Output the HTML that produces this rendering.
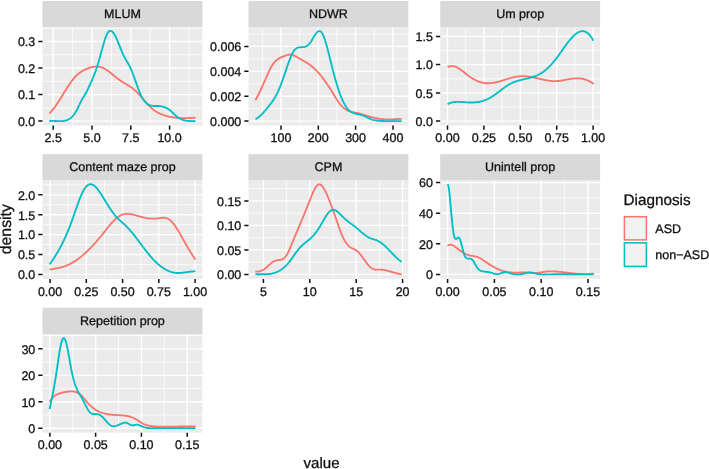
<!DOCTYPE html><html><head><meta charset="utf-8"><style>html,body{margin:0;padding:0;background:#fff}svg{display:block}text{font-family:"Liberation Sans",sans-serif;fill:#111;stroke:#111;stroke-width:0.3px;text-rendering:geometricPrecision}svg{opacity:0.999;will-change:transform}</style></head><body>
<svg width="709" height="469" viewBox="0 0 709 469">
<rect width="709" height="469" fill="#fff"/>
<g>
<rect x="42.50" y="1.00" width="159.90" height="26.20" fill="#D9D9D9"/>
<rect x="42.50" y="27.20" width="159.90" height="98.40" fill="#EBEBEB"/>
<path d="M72.60,27.20V125.60M111.40,27.20V125.60M150.20,27.20V125.60M189.00,27.20V125.60M42.50,107.85H202.40M42.50,81.35H202.40M42.50,54.75H202.40M42.50,28.25H202.40" stroke="#fff" stroke-opacity="0.95" stroke-width="0.8" fill="none"/>
<path d="M53.20,27.20V125.60M92.00,27.20V125.60M130.80,27.20V125.60M169.60,27.20V125.60M42.50,121.10H202.40M42.50,94.60H202.40M42.50,68.00H202.40M42.50,41.50H202.40" stroke="#fff" stroke-width="1.35" fill="none"/>
<path d="M49.40,113.39L50.00,112.82L50.60,112.21L51.20,111.57L51.80,110.89L52.41,110.19L53.01,109.45L53.61,108.69L54.21,107.90L54.81,107.08L55.41,106.24L56.01,105.39L56.61,104.51L57.22,103.61L57.82,102.70L58.42,101.78L59.02,100.84L59.62,99.89L60.22,98.93L60.82,97.96L61.42,96.99L62.03,96.02L62.63,95.04L63.23,94.06L63.83,93.08L64.43,92.11L65.03,91.14L65.63,90.17L66.23,89.21L66.84,88.27L67.44,87.33L68.04,86.41L68.64,85.50L69.24,84.61L69.84,83.73L70.44,82.87L71.04,82.03L71.65,81.22L72.25,80.42L72.85,79.65L73.45,78.90L74.05,78.17L74.65,77.47L75.25,76.80L75.85,76.15L76.46,75.54L77.06,74.95L77.66,74.40L78.26,73.87L78.86,73.37L79.46,72.90L80.06,72.45L80.66,72.02L81.27,71.62L81.87,71.24L82.47,70.87L83.07,70.53L83.67,70.20L84.27,69.89L84.87,69.59L85.47,69.31L86.08,69.04L86.68,68.77L87.28,68.53L87.88,68.29L88.48,68.06L89.08,67.85L89.68,67.66L90.28,67.47L90.89,67.31L91.49,67.16L92.09,67.02L92.69,66.90L93.29,66.80L93.89,66.71L94.49,66.65L95.09,66.60L95.70,66.57L96.30,66.56L96.90,66.57L97.50,66.60L98.10,66.65L98.70,66.73L99.30,66.82L99.90,66.94L100.50,67.08L101.11,67.25L101.71,67.44L102.31,67.65L102.91,67.89L103.51,68.16L104.11,68.45L104.71,68.77L105.31,69.12L105.92,69.48L106.52,69.88L107.12,70.29L107.72,70.72L108.32,71.16L108.92,71.62L109.52,72.09L110.12,72.57L110.73,73.06L111.33,73.55L111.93,74.05L112.53,74.55L113.13,75.05L113.73,75.55L114.33,76.04L114.93,76.53L115.54,77.01L116.14,77.48L116.74,77.95L117.34,78.41L117.94,78.85L118.54,79.30L119.14,79.73L119.74,80.15L120.35,80.57L120.95,80.97L121.55,81.37L122.15,81.76L122.75,82.13L123.35,82.50L123.95,82.86L124.55,83.22L125.16,83.57L125.76,83.93L126.36,84.28L126.96,84.63L127.56,84.99L128.16,85.35L128.76,85.73L129.36,86.11L129.97,86.50L130.57,86.91L131.17,87.33L131.77,87.76L132.37,88.22L132.97,88.69L133.57,89.18L134.17,89.68L134.78,90.20L135.38,90.74L135.98,91.30L136.58,91.88L137.18,92.48L137.78,93.09L138.38,93.73L138.98,94.37L139.59,95.03L140.19,95.70L140.79,96.38L141.39,97.07L141.99,97.76L142.59,98.45L143.19,99.14L143.79,99.83L144.40,100.53L145.00,101.22L145.60,101.90L146.20,102.58L146.80,103.25L147.40,103.91L148.00,104.56L148.60,105.20L149.20,105.83L149.81,106.44L150.41,107.03L151.01,107.61L151.61,108.16L152.21,108.70L152.81,109.21L153.41,109.70L154.01,110.16L154.62,110.60L155.22,111.02L155.82,111.42L156.42,111.79L157.02,112.15L157.62,112.49L158.22,112.81L158.82,113.11L159.43,113.40L160.03,113.68L160.63,113.94L161.23,114.19L161.83,114.43L162.43,114.65L163.03,114.87L163.63,115.08L164.24,115.28L164.84,115.47L165.44,115.66L166.04,115.84L166.64,116.00L167.24,116.17L167.84,116.32L168.44,116.47L169.05,116.60L169.65,116.74L170.25,116.86L170.85,116.98L171.45,117.09L172.05,117.20L172.65,117.29L173.25,117.39L173.86,117.47L174.46,117.55L175.06,117.63L175.66,117.70L176.26,117.76L176.86,117.82L177.46,117.87L178.06,117.92L178.67,117.96L179.27,118.00L179.87,118.03L180.47,118.06L181.07,118.08L181.67,118.10L182.27,118.12L182.87,118.13L183.48,118.13L184.08,118.14L184.68,118.14L185.28,118.14L185.88,118.13L186.48,118.12L187.08,118.11L187.68,118.09L188.29,118.07L188.89,118.05L189.49,118.03L190.09,118.00L190.69,117.98L191.29,117.95L191.89,117.91L192.49,117.88L193.10,117.84L193.70,117.81L194.30,117.77L194.90,117.73L195.50,117.69" stroke="#F8766D" stroke-width="1.85" fill="none" stroke-linejoin="round" stroke-linecap="butt"/>
<path d="M49.40,121.11L50.00,121.04L50.60,120.99L51.20,120.95L51.80,120.93L52.41,120.92L53.01,120.92L53.61,120.93L54.21,120.95L54.81,120.98L55.41,121.01L56.01,121.04L56.61,121.07L57.22,121.10L57.82,121.13L58.42,121.16L59.02,121.18L59.62,121.19L60.22,121.19L60.82,121.18L61.42,121.16L62.03,121.12L62.63,121.07L63.23,121.00L63.83,120.91L64.43,120.80L65.03,120.66L65.63,120.51L66.23,120.32L66.84,120.11L67.44,119.87L68.04,119.59L68.64,119.29L69.24,118.94L69.84,118.56L70.44,118.14L71.04,117.67L71.65,117.15L72.25,116.58L72.85,115.95L73.45,115.26L74.05,114.51L74.65,113.69L75.25,112.81L75.85,111.85L76.46,110.81L77.06,109.70L77.66,108.50L78.26,107.23L78.86,105.93L79.46,104.61L80.06,103.31L80.66,102.06L81.27,100.87L81.87,99.78L82.47,98.75L83.07,97.77L83.67,96.81L84.27,95.84L84.87,94.84L85.47,93.79L86.08,92.68L86.68,91.51L87.28,90.30L87.88,89.06L88.48,87.79L89.08,86.52L89.68,85.24L90.28,83.95L90.89,82.66L91.49,81.34L92.09,80.00L92.69,78.62L93.29,77.20L93.89,75.73L94.49,74.20L95.09,72.61L95.70,70.95L96.30,69.21L96.90,67.39L97.50,65.47L98.10,63.47L98.70,61.40L99.30,59.28L99.90,57.12L100.50,54.94L101.11,52.74L101.71,50.55L102.31,48.39L102.91,46.25L103.51,44.17L104.11,42.15L104.71,40.21L105.31,38.37L105.92,36.68L106.52,35.17L107.12,33.87L107.72,32.82L108.32,32.00L108.92,31.40L109.52,31.02L110.12,30.83L110.73,30.84L111.33,31.03L111.93,31.39L112.53,31.90L113.13,32.56L113.73,33.36L114.33,34.28L114.93,35.32L115.54,36.46L116.14,37.69L116.74,39.01L117.34,40.39L117.94,41.84L118.54,43.33L119.14,44.85L119.74,46.39L120.35,47.93L120.95,49.44L121.55,50.93L122.15,52.35L122.75,53.71L123.35,54.97L123.95,56.17L124.55,57.30L125.16,58.38L125.76,59.42L126.36,60.44L126.96,61.46L127.56,62.48L128.16,63.52L128.76,64.60L129.36,65.72L129.97,66.91L130.57,68.17L131.17,69.52L131.77,70.96L132.37,72.47L132.97,74.04L133.57,75.66L134.17,77.32L134.78,79.00L135.38,80.71L135.98,82.42L136.58,84.12L137.18,85.80L137.78,87.46L138.38,89.07L138.98,90.64L139.59,92.14L140.19,93.56L140.79,94.90L141.39,96.15L141.99,97.29L142.59,98.35L143.19,99.32L143.79,100.20L144.40,101.00L145.00,101.72L145.60,102.38L146.20,102.96L146.80,103.47L147.40,103.93L148.00,104.33L148.60,104.67L149.20,104.97L149.81,105.21L150.41,105.42L151.01,105.59L151.61,105.72L152.21,105.82L152.81,105.90L153.41,105.95L154.01,105.99L154.62,106.01L155.22,106.01L155.82,106.01L156.42,106.01L157.02,106.01L157.62,106.01L158.22,106.02L158.82,106.04L159.43,106.07L160.03,106.13L160.63,106.20L161.23,106.29L161.83,106.40L162.43,106.53L163.03,106.68L163.63,106.86L164.24,107.06L164.84,107.28L165.44,107.52L166.04,107.80L166.64,108.09L167.24,108.42L167.84,108.77L168.44,109.15L169.05,109.56L169.65,110.00L170.25,110.48L170.85,110.98L171.45,111.51L172.05,112.07L172.65,112.65L173.25,113.24L173.86,113.83L174.46,114.42L175.06,114.99L175.66,115.55L176.26,116.08L176.86,116.58L177.46,117.05L178.06,117.48L178.67,117.88L179.27,118.25L179.87,118.59L180.47,118.90L181.07,119.18L181.67,119.44L182.27,119.68L182.87,119.88L183.48,120.07L184.08,120.24L184.68,120.39L185.28,120.51L185.88,120.63L186.48,120.72L187.08,120.80L187.68,120.87L188.29,120.93L188.89,120.97L189.49,121.01L190.09,121.03L190.69,121.05L191.29,121.06L191.89,121.07L192.49,121.08L193.10,121.08L193.70,121.09L194.30,121.09L194.90,121.09L195.50,121.10" stroke="#00BFC4" stroke-width="1.85" fill="none" stroke-linejoin="round" stroke-linecap="butt"/>
<path d="M53.20,125.60v4.2M92.00,125.60v4.2M130.80,125.60v4.2M169.60,125.60v4.2M42.50,121.10h-4.2M42.50,94.60h-4.2M42.50,68.00h-4.2M42.50,41.50h-4.2" stroke="#111" stroke-width="1.5" fill="none"/>
<text x="53.20" y="142.20" font-size="12.5" text-anchor="middle">2.5</text>
<text x="92.00" y="142.20" font-size="12.5" text-anchor="middle">5.0</text>
<text x="130.80" y="142.20" font-size="12.5" text-anchor="middle">7.5</text>
<text x="169.60" y="142.20" font-size="12.5" text-anchor="middle">10.0</text>
<text x="35.30" y="125.90" font-size="12.5" text-anchor="end">0.0</text>
<text x="35.30" y="99.40" font-size="12.5" text-anchor="end">0.1</text>
<text x="35.30" y="72.80" font-size="12.5" text-anchor="end">0.2</text>
<text x="35.30" y="46.30" font-size="12.5" text-anchor="end">0.3</text>
<text x="122.45" y="17.80" font-size="12.5" text-anchor="middle" fill="#1a1a1a">MLUM</text>
</g>
<g>
<rect x="248.50" y="1.00" width="159.90" height="26.20" fill="#D9D9D9"/>
<rect x="248.50" y="27.20" width="159.90" height="98.40" fill="#EBEBEB"/>
<path d="M299.65,27.20V125.60M336.95,27.20V125.60M374.25,27.20V125.60M262.35,27.20V125.60M248.50,108.65H408.40M248.50,83.75H408.40M248.50,58.85H408.40M248.50,33.95H408.40" stroke="#fff" stroke-opacity="0.95" stroke-width="0.8" fill="none"/>
<path d="M281.00,27.20V125.60M318.30,27.20V125.60M355.60,27.20V125.60M393.00,27.20V125.60M248.50,121.10H408.40M248.50,96.20H408.40M248.50,71.30H408.40M248.50,46.40H408.40" stroke="#fff" stroke-width="1.35" fill="none"/>
<path d="M255.40,100.40L256.00,99.26L256.60,98.11L257.20,96.93L257.81,95.74L258.41,94.54L259.01,93.31L259.61,92.08L260.21,90.82L260.81,89.55L261.42,88.27L262.02,86.97L262.62,85.66L263.22,84.34L263.82,83.00L264.42,81.65L265.03,80.29L265.63,78.92L266.23,77.54L266.83,76.16L267.43,74.79L268.03,73.44L268.64,72.13L269.24,70.84L269.84,69.61L270.44,68.43L271.04,67.31L271.64,66.26L272.25,65.29L272.85,64.38L273.45,63.53L274.05,62.75L274.65,62.04L275.25,61.38L275.86,60.78L276.46,60.24L277.06,59.74L277.66,59.30L278.26,58.89L278.86,58.52L279.47,58.18L280.07,57.87L280.67,57.58L281.27,57.31L281.87,57.05L282.47,56.80L283.08,56.56L283.68,56.31L284.28,56.07L284.88,55.83L285.48,55.60L286.08,55.38L286.69,55.19L287.29,55.02L287.89,54.87L288.49,54.77L289.09,54.69L289.69,54.67L290.30,54.68L290.90,54.74L291.50,54.84L292.10,54.98L292.70,55.15L293.30,55.35L293.91,55.59L294.51,55.84L295.11,56.12L295.71,56.42L296.31,56.73L296.91,57.06L297.52,57.40L298.12,57.74L298.72,58.09L299.32,58.44L299.92,58.79L300.52,59.13L301.13,59.47L301.73,59.81L302.33,60.15L302.93,60.50L303.53,60.84L304.13,61.18L304.73,61.53L305.34,61.89L305.94,62.25L306.54,62.62L307.14,63.00L307.74,63.39L308.34,63.79L308.95,64.20L309.55,64.62L310.15,65.06L310.75,65.52L311.35,65.99L311.95,66.48L312.56,66.98L313.16,67.50L313.76,68.04L314.36,68.59L314.96,69.16L315.56,69.75L316.17,70.35L316.77,70.97L317.37,71.61L317.97,72.26L318.57,72.93L319.17,73.61L319.78,74.32L320.38,75.04L320.98,75.78L321.58,76.53L322.18,77.30L322.78,78.09L323.39,78.89L323.99,79.71L324.59,80.54L325.19,81.38L325.79,82.24L326.39,83.10L327.00,83.97L327.60,84.85L328.20,85.74L328.80,86.63L329.40,87.54L330.00,88.45L330.61,89.37L331.21,90.31L331.81,91.26L332.41,92.23L333.01,93.22L333.61,94.23L334.22,95.25L334.82,96.30L335.42,97.34L336.02,98.36L336.62,99.35L337.22,100.29L337.83,101.19L338.43,102.04L339.03,102.86L339.63,103.63L340.23,104.36L340.83,105.05L341.44,105.70L342.04,106.32L342.64,106.89L343.24,107.44L343.84,107.95L344.44,108.42L345.05,108.86L345.65,109.27L346.25,109.65L346.85,110.00L347.45,110.32L348.05,110.61L348.66,110.88L349.26,111.12L349.86,111.34L350.46,111.54L351.06,111.72L351.66,111.89L352.27,112.04L352.87,112.18L353.47,112.31L354.07,112.43L354.67,112.55L355.27,112.66L355.87,112.77L356.48,112.89L357.08,113.00L357.68,113.12L358.28,113.25L358.88,113.38L359.48,113.53L360.09,113.69L360.69,113.86L361.29,114.04L361.89,114.23L362.49,114.42L363.09,114.62L363.70,114.82L364.30,115.02L364.90,115.21L365.50,115.41L366.10,115.60L366.70,115.79L367.31,115.98L367.91,116.16L368.51,116.34L369.11,116.51L369.71,116.68L370.31,116.85L370.92,117.01L371.52,117.17L372.12,117.32L372.72,117.47L373.32,117.61L373.92,117.75L374.53,117.89L375.13,118.02L375.73,118.14L376.33,118.26L376.93,118.37L377.53,118.48L378.14,118.59L378.74,118.68L379.34,118.78L379.94,118.86L380.54,118.94L381.14,119.02L381.75,119.09L382.35,119.15L382.95,119.21L383.55,119.26L384.15,119.30L384.75,119.34L385.36,119.37L385.96,119.39L386.56,119.41L387.16,119.42L387.76,119.43L388.36,119.43L388.97,119.42L389.57,119.42L390.17,119.40L390.77,119.39L391.37,119.37L391.97,119.35L392.58,119.32L393.18,119.29L393.78,119.26L394.38,119.23L394.98,119.19L395.58,119.16L396.19,119.12L396.79,119.08L397.39,119.05L397.99,119.01L398.59,118.97L399.19,118.94L399.80,118.90L400.40,118.87L401.00,118.83L401.60,118.80" stroke="#F8766D" stroke-width="1.85" fill="none" stroke-linejoin="round" stroke-linecap="butt"/>
<path d="M255.40,119.10L256.00,118.82L256.60,118.50L257.20,118.13L257.81,117.73L258.41,117.29L259.01,116.82L259.61,116.32L260.21,115.79L260.81,115.23L261.42,114.64L262.02,114.04L262.62,113.40L263.22,112.75L263.82,112.09L264.42,111.40L265.03,110.71L265.63,110.00L266.23,109.29L266.83,108.56L267.43,107.83L268.03,107.10L268.64,106.36L269.24,105.62L269.84,104.86L270.44,104.09L271.04,103.30L271.64,102.48L272.25,101.64L272.85,100.77L273.45,99.87L274.05,98.93L274.65,97.96L275.25,96.94L275.86,95.87L276.46,94.75L277.06,93.58L277.66,92.35L278.26,91.06L278.86,89.71L279.47,88.29L280.07,86.81L280.67,85.27L281.27,83.68L281.87,82.05L282.47,80.38L283.08,78.67L283.68,76.94L284.28,75.19L284.88,73.42L285.48,71.64L286.08,69.86L286.69,68.08L287.29,66.31L287.89,64.57L288.49,62.86L289.09,61.19L289.69,59.58L290.30,58.04L290.90,56.57L291.50,55.20L292.10,53.92L292.70,52.76L293.30,51.71L293.91,50.80L294.51,50.02L295.11,49.37L295.71,48.82L296.31,48.38L296.91,48.03L297.52,47.76L298.12,47.55L298.72,47.41L299.32,47.31L299.92,47.26L300.52,47.22L301.13,47.21L301.73,47.20L302.33,47.18L302.93,47.15L303.53,47.10L304.13,47.00L304.73,46.87L305.34,46.68L305.94,46.44L306.54,46.14L307.14,45.77L307.74,45.33L308.34,44.82L308.95,44.23L309.55,43.56L310.15,42.79L310.75,41.93L311.35,40.98L311.95,39.97L312.56,38.92L313.16,37.87L313.76,36.83L314.36,35.83L314.96,34.89L315.56,34.02L316.17,33.24L316.77,32.56L317.37,31.99L317.97,31.55L318.57,31.25L319.17,31.11L319.78,31.14L320.38,31.36L320.98,31.77L321.58,32.39L322.18,33.24L322.78,34.31L323.39,35.59L323.99,37.06L324.59,38.72L325.19,40.55L325.79,42.53L326.39,44.65L327.00,46.86L327.60,49.16L328.20,51.51L328.80,53.89L329.40,56.28L330.00,58.69L330.61,61.10L331.21,63.50L331.81,65.89L332.41,68.27L333.01,70.62L333.61,72.93L334.22,75.21L334.82,77.45L335.42,79.63L336.02,81.75L336.62,83.80L337.22,85.79L337.83,87.71L338.43,89.55L339.03,91.33L339.63,93.03L340.23,94.67L340.83,96.23L341.44,97.72L342.04,99.14L342.64,100.48L343.24,101.75L343.84,102.95L344.44,104.08L345.05,105.13L345.65,106.11L346.25,107.02L346.85,107.85L347.45,108.60L348.05,109.29L348.66,109.92L349.26,110.48L349.86,110.99L350.46,111.44L351.06,111.84L351.66,112.20L352.27,112.52L352.87,112.80L353.47,113.04L354.07,113.26L354.67,113.45L355.27,113.62L355.87,113.76L356.48,113.90L357.08,114.02L357.68,114.14L358.28,114.25L358.88,114.36L359.48,114.48L360.09,114.61L360.69,114.75L361.29,114.91L361.89,115.08L362.49,115.28L363.09,115.51L363.70,115.75L364.30,116.02L364.90,116.30L365.50,116.59L366.10,116.89L366.70,117.20L367.31,117.51L367.91,117.81L368.51,118.11L369.11,118.40L369.71,118.68L370.31,118.95L370.92,119.19L371.52,119.41L372.12,119.61L372.72,119.79L373.32,119.95L373.92,120.09L374.53,120.21L375.13,120.32L375.73,120.42L376.33,120.51L376.93,120.59L377.53,120.66L378.14,120.73L378.74,120.79L379.34,120.84L379.94,120.88L380.54,120.92L381.14,120.95L381.75,120.98L382.35,121.01L382.95,121.03L383.55,121.05L384.15,121.06L384.75,121.07L385.36,121.08L385.96,121.09L386.56,121.10L387.16,121.10L387.76,121.11L388.36,121.11L388.97,121.11L389.57,121.11L390.17,121.11L390.77,121.11L391.37,121.11L391.97,121.11L392.58,121.11L393.18,121.10L393.78,121.10L394.38,121.10L394.98,121.10L395.58,121.09L396.19,121.09L396.79,121.09L397.39,121.09L397.99,121.09L398.59,121.09L399.19,121.09L399.80,121.09L400.40,121.09L401.00,121.10L401.60,121.10" stroke="#00BFC4" stroke-width="1.85" fill="none" stroke-linejoin="round" stroke-linecap="butt"/>
<path d="M281.00,125.60v4.2M318.30,125.60v4.2M355.60,125.60v4.2M393.00,125.60v4.2M248.50,121.10h-4.2M248.50,96.20h-4.2M248.50,71.30h-4.2M248.50,46.40h-4.2" stroke="#111" stroke-width="1.5" fill="none"/>
<text x="281.00" y="142.20" font-size="12.5" text-anchor="middle">100</text>
<text x="318.30" y="142.20" font-size="12.5" text-anchor="middle">200</text>
<text x="355.60" y="142.20" font-size="12.5" text-anchor="middle">300</text>
<text x="393.00" y="142.20" font-size="12.5" text-anchor="middle">400</text>
<text x="241.30" y="125.90" font-size="12.5" text-anchor="end">0.000</text>
<text x="241.30" y="101.00" font-size="12.5" text-anchor="end">0.002</text>
<text x="241.30" y="76.10" font-size="12.5" text-anchor="end">0.004</text>
<text x="241.30" y="51.20" font-size="12.5" text-anchor="end">0.006</text>
<text x="328.45" y="17.80" font-size="12.5" text-anchor="middle" fill="#1a1a1a">NDWR</text>
</g>
<g>
<rect x="440.20" y="1.00" width="159.90" height="26.20" fill="#D9D9D9"/>
<rect x="440.20" y="27.20" width="159.90" height="98.40" fill="#EBEBEB"/>
<path d="M465.70,27.20V125.60M502.10,27.20V125.60M538.50,27.20V125.60M574.90,27.20V125.60M440.20,107.00H600.10M440.20,78.80H600.10M440.20,50.50H600.10" stroke="#fff" stroke-opacity="0.95" stroke-width="0.8" fill="none"/>
<path d="M447.50,27.20V125.60M483.90,27.20V125.60M520.30,27.20V125.60M556.70,27.20V125.60M593.10,27.20V125.60M440.20,121.10H600.10M440.20,92.90H600.10M440.20,64.60H600.10M440.20,36.40H600.10" stroke="#fff" stroke-width="1.35" fill="none"/>
<path d="M447.50,67.28L448.10,66.95L448.70,66.66L449.30,66.44L449.90,66.26L450.51,66.14L451.11,66.06L451.71,66.03L452.31,66.05L452.91,66.11L453.51,66.21L454.11,66.34L454.71,66.51L455.32,66.72L455.92,66.96L456.52,67.23L457.12,67.53L457.72,67.85L458.32,68.20L458.92,68.57L459.52,68.96L460.13,69.37L460.73,69.79L461.33,70.23L461.93,70.68L462.53,71.14L463.13,71.60L463.73,72.07L464.33,72.55L464.94,73.03L465.54,73.51L466.14,73.98L466.74,74.45L467.34,74.91L467.94,75.37L468.54,75.82L469.14,76.25L469.75,76.67L470.35,77.08L470.95,77.48L471.55,77.87L472.15,78.25L472.75,78.61L473.35,78.96L473.95,79.30L474.56,79.63L475.16,79.94L475.76,80.24L476.36,80.53L476.96,80.80L477.56,81.06L478.16,81.31L478.76,81.54L479.37,81.76L479.97,81.97L480.57,82.16L481.17,82.34L481.77,82.50L482.37,82.64L482.97,82.78L483.57,82.89L484.18,83.00L484.78,83.08L485.38,83.15L485.98,83.21L486.58,83.25L487.18,83.27L487.78,83.28L488.38,83.28L488.99,83.27L489.59,83.24L490.19,83.20L490.79,83.15L491.39,83.09L491.99,83.01L492.59,82.93L493.19,82.84L493.80,82.73L494.40,82.62L495.00,82.50L495.60,82.38L496.20,82.24L496.80,82.10L497.40,81.95L498.00,81.80L498.60,81.64L499.21,81.47L499.81,81.30L500.41,81.13L501.01,80.95L501.61,80.77L502.21,80.59L502.81,80.41L503.41,80.22L504.02,80.03L504.62,79.84L505.22,79.65L505.82,79.46L506.42,79.28L507.02,79.09L507.62,78.90L508.22,78.72L508.83,78.54L509.43,78.36L510.03,78.19L510.63,78.02L511.23,77.85L511.83,77.69L512.43,77.53L513.03,77.39L513.64,77.24L514.24,77.10L514.84,76.98L515.44,76.85L516.04,76.74L516.64,76.64L517.24,76.54L517.84,76.45L518.45,76.38L519.05,76.31L519.65,76.26L520.25,76.21L520.85,76.18L521.45,76.16L522.05,76.15L522.65,76.15L523.26,76.16L523.86,76.18L524.46,76.21L525.06,76.25L525.66,76.29L526.26,76.35L526.86,76.41L527.46,76.48L528.07,76.56L528.67,76.64L529.27,76.73L529.87,76.82L530.47,76.92L531.07,77.03L531.67,77.13L532.27,77.25L532.88,77.37L533.48,77.49L534.08,77.61L534.68,77.74L535.28,77.87L535.88,78.00L536.48,78.14L537.08,78.27L537.69,78.41L538.29,78.54L538.89,78.68L539.49,78.82L540.09,78.95L540.69,79.09L541.29,79.22L541.89,79.36L542.50,79.49L543.10,79.62L543.70,79.74L544.30,79.86L544.90,79.98L545.50,80.10L546.10,80.21L546.70,80.32L547.30,80.42L547.91,80.52L548.51,80.61L549.11,80.69L549.71,80.77L550.31,80.84L550.91,80.91L551.51,80.96L552.11,81.01L552.72,81.05L553.32,81.08L553.92,81.11L554.52,81.12L555.12,81.13L555.72,81.12L556.32,81.10L556.92,81.08L557.53,81.04L558.13,80.99L558.73,80.93L559.33,80.87L559.93,80.79L560.53,80.71L561.13,80.63L561.73,80.53L562.34,80.44L562.94,80.33L563.54,80.23L564.14,80.12L564.74,80.01L565.34,79.89L565.94,79.78L566.54,79.67L567.15,79.55L567.75,79.44L568.35,79.33L568.95,79.22L569.55,79.11L570.15,79.01L570.75,78.91L571.35,78.82L571.96,78.73L572.56,78.65L573.16,78.57L573.76,78.51L574.36,78.45L574.96,78.40L575.56,78.36L576.16,78.33L576.77,78.32L577.37,78.31L577.97,78.32L578.57,78.34L579.17,78.38L579.77,78.42L580.37,78.48L580.97,78.56L581.58,78.65L582.18,78.76L582.78,78.88L583.38,79.01L583.98,79.17L584.58,79.33L585.18,79.52L585.78,79.72L586.39,79.93L586.99,80.16L587.59,80.42L588.19,80.68L588.79,80.97L589.39,81.27L589.99,81.59L590.59,81.93L591.20,82.29L591.80,82.67L592.40,83.06L593.00,83.48L593.60,83.92" stroke="#F8766D" stroke-width="1.85" fill="none" stroke-linejoin="round" stroke-linecap="butt"/>
<path d="M447.50,104.10L448.10,103.82L448.70,103.56L449.31,103.32L449.91,103.10L450.51,102.90L451.11,102.73L451.72,102.57L452.32,102.43L452.92,102.31L453.52,102.21L454.13,102.12L454.73,102.04L455.33,101.98L455.93,101.93L456.54,101.90L457.14,101.88L457.74,101.86L458.34,101.86L458.95,101.87L459.55,101.88L460.15,101.90L460.75,101.93L461.36,101.96L461.96,102.00L462.56,102.04L463.16,102.08L463.77,102.13L464.37,102.17L464.97,102.22L465.57,102.27L466.18,102.31L466.78,102.35L467.38,102.39L467.98,102.43L468.59,102.46L469.19,102.48L469.79,102.50L470.39,102.51L471.00,102.52L471.60,102.51L472.20,102.51L472.80,102.49L473.41,102.47L474.01,102.43L474.61,102.39L475.21,102.35L475.82,102.29L476.42,102.22L477.02,102.15L477.62,102.07L478.23,101.97L478.83,101.87L479.43,101.76L480.03,101.63L480.64,101.50L481.24,101.35L481.84,101.20L482.44,101.03L483.05,100.85L483.65,100.66L484.25,100.46L484.85,100.24L485.46,100.01L486.06,99.77L486.66,99.52L487.26,99.25L487.87,98.97L488.47,98.67L489.07,98.36L489.67,98.04L490.28,97.70L490.88,97.35L491.48,96.98L492.08,96.60L492.69,96.21L493.29,95.81L493.89,95.40L494.49,94.98L495.10,94.55L495.70,94.11L496.30,93.67L496.90,93.22L497.51,92.77L498.11,92.32L498.71,91.86L499.31,91.40L499.92,90.94L500.52,90.48L501.12,90.02L501.72,89.56L502.33,89.11L502.93,88.66L503.53,88.21L504.13,87.77L504.74,87.34L505.34,86.91L505.94,86.49L506.54,86.09L507.15,85.69L507.75,85.30L508.35,84.93L508.95,84.56L509.56,84.22L510.16,83.88L510.76,83.57L511.36,83.27L511.97,82.98L512.57,82.71L513.17,82.45L513.77,82.20L514.38,81.97L514.98,81.74L515.58,81.53L516.18,81.33L516.79,81.13L517.39,80.95L517.99,80.77L518.59,80.59L519.20,80.43L519.80,80.26L520.40,80.11L521.00,79.95L521.60,79.80L522.21,79.65L522.81,79.51L523.41,79.36L524.01,79.22L524.62,79.08L525.22,78.94L525.82,78.80L526.42,78.66L527.03,78.52L527.63,78.37L528.23,78.23L528.83,78.08L529.44,77.92L530.04,77.77L530.64,77.60L531.24,77.43L531.85,77.26L532.45,77.08L533.05,76.89L533.65,76.69L534.26,76.48L534.86,76.26L535.46,76.03L536.06,75.79L536.67,75.54L537.27,75.28L537.87,75.00L538.47,74.71L539.08,74.40L539.68,74.08L540.28,73.75L540.88,73.39L541.49,73.02L542.09,72.64L542.69,72.23L543.29,71.80L543.90,71.36L544.50,70.90L545.10,70.42L545.70,69.92L546.31,69.40L546.91,68.87L547.51,68.32L548.11,67.75L548.72,67.17L549.32,66.57L549.92,65.95L550.52,65.31L551.13,64.66L551.73,64.00L552.33,63.32L552.93,62.62L553.54,61.91L554.14,61.18L554.74,60.44L555.34,59.68L555.95,58.91L556.55,58.13L557.15,57.33L557.75,56.52L558.36,55.70L558.96,54.86L559.56,54.03L560.16,53.18L560.77,52.33L561.37,51.48L561.97,50.62L562.57,49.77L563.18,48.91L563.78,48.06L564.38,47.21L564.98,46.37L565.59,45.53L566.19,44.71L566.79,43.89L567.39,43.09L568.00,42.30L568.60,41.52L569.20,40.76L569.80,40.01L570.41,39.29L571.01,38.59L571.61,37.90L572.21,37.25L572.82,36.61L573.42,36.01L574.02,35.43L574.62,34.88L575.23,34.36L575.83,33.88L576.43,33.43L577.03,33.01L577.64,32.63L578.24,32.29L578.84,31.99L579.44,31.73L580.05,31.52L580.65,31.35L581.25,31.22L581.85,31.15L582.46,31.12L583.06,31.14L583.66,31.21L584.26,31.34L584.87,31.52L585.47,31.76L586.07,32.06L586.67,32.42L587.28,32.83L587.88,33.31L588.48,33.86L589.08,34.47L589.69,35.14L590.29,35.89L590.89,36.70L591.49,37.59L592.10,38.55L592.70,39.58L593.30,40.69" stroke="#00BFC4" stroke-width="1.85" fill="none" stroke-linejoin="round" stroke-linecap="butt"/>
<path d="M447.50,125.60v4.2M483.90,125.60v4.2M520.30,125.60v4.2M556.70,125.60v4.2M593.10,125.60v4.2M440.20,121.10h-4.2M440.20,92.90h-4.2M440.20,64.60h-4.2M440.20,36.40h-4.2" stroke="#111" stroke-width="1.5" fill="none"/>
<text x="447.50" y="142.20" font-size="12.5" text-anchor="middle">0.00</text>
<text x="483.90" y="142.20" font-size="12.5" text-anchor="middle">0.25</text>
<text x="520.30" y="142.20" font-size="12.5" text-anchor="middle">0.50</text>
<text x="556.70" y="142.20" font-size="12.5" text-anchor="middle">0.75</text>
<text x="593.10" y="142.20" font-size="12.5" text-anchor="middle">1.00</text>
<text x="433.00" y="125.90" font-size="12.5" text-anchor="end">0.0</text>
<text x="433.00" y="97.70" font-size="12.5" text-anchor="end">0.5</text>
<text x="433.00" y="69.40" font-size="12.5" text-anchor="end">1.0</text>
<text x="433.00" y="41.20" font-size="12.5" text-anchor="end">1.5</text>
<text x="520.15" y="17.80" font-size="12.5" text-anchor="middle" fill="#1a1a1a">Um prop</text>
</g>
<g>
<rect x="42.50" y="154.20" width="159.90" height="26.30" fill="#D9D9D9"/>
<rect x="42.50" y="180.50" width="159.90" height="98.40" fill="#EBEBEB"/>
<path d="M68.18,180.50V278.90M104.42,180.50V278.90M140.72,180.50V278.90M176.92,180.50V278.90M42.50,264.45H202.40M42.50,244.55H202.40M42.50,224.65H202.40M42.50,204.75H202.40M42.50,184.85H202.40" stroke="#fff" stroke-opacity="0.95" stroke-width="0.8" fill="none"/>
<path d="M50.06,180.50V278.90M86.30,180.50V278.90M122.60,180.50V278.90M158.80,180.50V278.90M195.10,180.50V278.90M42.50,274.40H202.40M42.50,254.50H202.40M42.50,234.60H202.40M42.50,214.70H202.40M42.50,194.80H202.40" stroke="#fff" stroke-width="1.35" fill="none"/>
<path d="M49.60,269.50L50.20,269.41L50.80,269.32L51.40,269.23L52.00,269.13L52.60,269.04L53.20,268.94L53.80,268.85L54.40,268.75L55.00,268.64L55.60,268.54L56.20,268.43L56.80,268.32L57.41,268.20L58.01,268.07L58.61,267.95L59.21,267.81L59.81,267.67L60.41,267.52L61.01,267.37L61.61,267.21L62.21,267.04L62.81,266.86L63.41,266.68L64.01,266.48L64.61,266.28L65.21,266.07L65.81,265.84L66.41,265.61L67.01,265.36L67.61,265.10L68.21,264.84L68.81,264.56L69.41,264.27L70.01,263.97L70.61,263.66L71.21,263.34L71.82,263.01L72.42,262.67L73.02,262.32L73.62,261.96L74.22,261.59L74.82,261.21L75.42,260.82L76.02,260.42L76.62,260.02L77.22,259.60L77.82,259.17L78.42,258.73L79.02,258.28L79.62,257.83L80.22,257.36L80.82,256.88L81.42,256.40L82.02,255.91L82.62,255.40L83.22,254.89L83.82,254.37L84.42,253.84L85.02,253.30L85.62,252.76L86.23,252.20L86.83,251.64L87.43,251.07L88.03,250.49L88.63,249.90L89.23,249.30L89.83,248.70L90.43,248.09L91.03,247.47L91.63,246.84L92.23,246.20L92.83,245.56L93.43,244.91L94.03,244.25L94.63,243.59L95.23,242.92L95.83,242.24L96.43,241.55L97.03,240.86L97.63,240.16L98.23,239.46L98.83,238.75L99.43,238.03L100.03,237.30L100.63,236.57L101.24,235.83L101.84,235.09L102.44,234.34L103.04,233.59L103.64,232.83L104.24,232.07L104.84,231.31L105.44,230.54L106.04,229.78L106.64,229.03L107.24,228.27L107.84,227.53L108.44,226.78L109.04,226.05L109.64,225.33L110.24,224.62L110.84,223.92L111.44,223.23L112.04,222.56L112.64,221.91L113.24,221.27L113.84,220.65L114.44,220.05L115.04,219.48L115.65,218.92L116.25,218.39L116.85,217.89L117.45,217.41L118.05,216.97L118.65,216.55L119.25,216.16L119.85,215.81L120.45,215.49L121.05,215.20L121.65,214.94L122.25,214.72L122.85,214.52L123.45,214.35L124.05,214.21L124.65,214.10L125.25,214.01L125.85,213.95L126.45,213.91L127.05,213.89L127.65,213.89L128.25,213.91L128.85,213.95L129.45,214.01L130.06,214.08L130.66,214.17L131.26,214.27L131.86,214.38L132.46,214.51L133.06,214.65L133.66,214.79L134.26,214.94L134.86,215.10L135.46,215.27L136.06,215.44L136.66,215.61L137.26,215.79L137.86,215.97L138.46,216.14L139.06,216.32L139.66,216.49L140.26,216.66L140.86,216.83L141.46,216.99L142.06,217.14L142.66,217.29L143.26,217.44L143.86,217.57L144.47,217.70L145.07,217.82L145.67,217.94L146.27,218.04L146.87,218.14L147.47,218.24L148.07,218.32L148.67,218.40L149.27,218.47L149.87,218.53L150.47,218.58L151.07,218.62L151.67,218.65L152.27,218.68L152.87,218.69L153.47,218.70L154.07,218.69L154.67,218.68L155.27,218.65L155.87,218.62L156.47,218.57L157.07,218.52L157.67,218.45L158.27,218.37L158.87,218.28L159.48,218.19L160.08,218.10L160.68,218.01L161.28,217.93L161.88,217.86L162.48,217.81L163.08,217.78L163.68,217.77L164.28,217.79L164.88,217.84L165.48,217.92L166.08,218.05L166.68,218.22L167.28,218.43L167.88,218.70L168.48,219.03L169.08,219.41L169.68,219.85L170.28,220.35L170.88,220.90L171.48,221.50L172.08,222.14L172.68,222.83L173.28,223.57L173.89,224.34L174.49,225.15L175.09,225.99L175.69,226.86L176.29,227.76L176.89,228.69L177.49,229.64L178.09,230.60L178.69,231.59L179.29,232.59L179.89,233.61L180.49,234.64L181.09,235.67L181.69,236.72L182.29,237.78L182.89,238.84L183.49,239.91L184.09,240.97L184.69,242.04L185.29,243.11L185.89,244.18L186.49,245.24L187.09,246.30L187.69,247.35L188.30,248.39L188.90,249.42L189.50,250.44L190.10,251.44L190.70,252.43L191.30,253.40L191.90,254.36L192.50,255.29L193.10,256.20L193.70,257.08L194.30,257.95L194.90,258.78L195.50,259.58" stroke="#F8766D" stroke-width="1.85" fill="none" stroke-linejoin="round" stroke-linecap="butt"/>
<path d="M49.60,264.39L50.20,263.56L50.80,262.72L51.40,261.86L52.00,260.99L52.60,260.11L53.20,259.22L53.80,258.31L54.40,257.38L55.00,256.44L55.60,255.49L56.20,254.51L56.80,253.52L57.41,252.51L58.01,251.48L58.61,250.44L59.21,249.37L59.81,248.28L60.41,247.17L61.01,246.03L61.61,244.88L62.21,243.70L62.81,242.49L63.41,241.26L64.01,240.01L64.61,238.73L65.21,237.42L65.81,236.09L66.41,234.73L67.01,233.34L67.61,231.91L68.21,230.46L68.81,228.98L69.41,227.47L70.01,225.93L70.61,224.35L71.21,222.74L71.82,221.10L72.42,219.42L73.02,217.72L73.62,216.00L74.22,214.27L74.82,212.53L75.42,210.79L76.02,209.06L76.62,207.34L77.22,205.64L77.82,203.97L78.42,202.33L79.02,200.73L79.62,199.17L80.22,197.67L80.82,196.23L81.42,194.84L82.02,193.53L82.62,192.30L83.22,191.15L83.82,190.07L84.42,189.08L85.02,188.18L85.62,187.36L86.23,186.64L86.83,186.01L87.43,185.47L88.03,185.03L88.63,184.69L89.23,184.45L89.83,184.31L90.43,184.25L91.03,184.28L91.63,184.39L92.23,184.58L92.83,184.84L93.43,185.17L94.03,185.58L94.63,186.04L95.23,186.57L95.83,187.15L96.43,187.79L97.03,188.47L97.63,189.20L98.23,189.97L98.83,190.79L99.43,191.63L100.03,192.51L100.63,193.41L101.24,194.34L101.84,195.28L102.44,196.25L103.04,197.22L103.64,198.21L104.24,199.20L104.84,200.19L105.44,201.18L106.04,202.16L106.64,203.14L107.24,204.10L107.84,205.06L108.44,206.01L109.04,206.94L109.64,207.87L110.24,208.77L110.84,209.67L111.44,210.54L112.04,211.40L112.64,212.23L113.24,213.05L113.84,213.84L114.44,214.62L115.04,215.36L115.65,216.08L116.25,216.78L116.85,217.45L117.45,218.08L118.05,218.69L118.65,219.28L119.25,219.84L119.85,220.38L120.45,220.92L121.05,221.44L121.65,221.96L122.25,222.47L122.85,222.99L123.45,223.52L124.05,224.06L124.65,224.61L125.25,225.18L125.85,225.77L126.45,226.37L127.05,226.99L127.65,227.63L128.25,228.28L128.85,228.94L129.45,229.62L130.06,230.31L130.66,231.01L131.26,231.72L131.86,232.44L132.46,233.17L133.06,233.91L133.66,234.66L134.26,235.42L134.86,236.18L135.46,236.95L136.06,237.72L136.66,238.50L137.26,239.29L137.86,240.08L138.46,240.87L139.06,241.66L139.66,242.46L140.26,243.26L140.86,244.05L141.46,244.85L142.06,245.64L142.66,246.44L143.26,247.23L143.86,248.02L144.47,248.80L145.07,249.58L145.67,250.36L146.27,251.13L146.87,251.89L147.47,252.65L148.07,253.39L148.67,254.13L149.27,254.86L149.87,255.58L150.47,256.29L151.07,256.99L151.67,257.68L152.27,258.36L152.87,259.02L153.47,259.67L154.07,260.30L154.67,260.92L155.27,261.52L155.87,262.11L156.47,262.68L157.07,263.24L157.67,263.79L158.27,264.31L158.87,264.83L159.48,265.32L160.08,265.81L160.68,266.27L161.28,266.72L161.88,267.16L162.48,267.58L163.08,267.99L163.68,268.38L164.28,268.75L164.88,269.11L165.48,269.45L166.08,269.78L166.68,270.09L167.28,270.39L167.88,270.67L168.48,270.94L169.08,271.19L169.68,271.42L170.28,271.64L170.88,271.84L171.48,272.03L172.08,272.20L172.68,272.35L173.28,272.49L173.89,272.61L174.49,272.72L175.09,272.81L175.69,272.88L176.29,272.94L176.89,272.98L177.49,273.01L178.09,273.02L178.69,273.02L179.29,273.00L179.89,272.98L180.49,272.94L181.09,272.89L181.69,272.84L182.29,272.77L182.89,272.70L183.49,272.62L184.09,272.54L184.69,272.46L185.29,272.37L185.89,272.28L186.49,272.18L187.09,272.09L187.69,272.00L188.30,271.91L188.90,271.82L189.50,271.74L190.10,271.66L190.70,271.59L191.30,271.52L191.90,271.46L192.50,271.41L193.10,271.36L193.70,271.33L194.30,271.31L194.90,271.30L195.50,271.31" stroke="#00BFC4" stroke-width="1.85" fill="none" stroke-linejoin="round" stroke-linecap="butt"/>
<path d="M50.06,278.90v4.2M86.30,278.90v4.2M122.60,278.90v4.2M158.80,278.90v4.2M195.10,278.90v4.2M42.50,274.40h-4.2M42.50,254.50h-4.2M42.50,234.60h-4.2M42.50,214.70h-4.2M42.50,194.80h-4.2" stroke="#111" stroke-width="1.5" fill="none"/>
<text x="50.06" y="295.50" font-size="12.5" text-anchor="middle">0.00</text>
<text x="86.30" y="295.50" font-size="12.5" text-anchor="middle">0.25</text>
<text x="122.60" y="295.50" font-size="12.5" text-anchor="middle">0.50</text>
<text x="158.80" y="295.50" font-size="12.5" text-anchor="middle">0.75</text>
<text x="195.10" y="295.50" font-size="12.5" text-anchor="middle">1.00</text>
<text x="35.30" y="279.20" font-size="12.5" text-anchor="end">0.0</text>
<text x="35.30" y="259.30" font-size="12.5" text-anchor="end">0.5</text>
<text x="35.30" y="239.40" font-size="12.5" text-anchor="end">1.0</text>
<text x="35.30" y="219.50" font-size="12.5" text-anchor="end">1.5</text>
<text x="35.30" y="199.60" font-size="12.5" text-anchor="end">2.0</text>
<text x="122.45" y="171.05" font-size="12.5" text-anchor="middle" fill="#1a1a1a">Content maze prop</text>
</g>
<g>
<rect x="248.50" y="154.20" width="159.90" height="26.30" fill="#D9D9D9"/>
<rect x="248.50" y="180.50" width="159.90" height="98.40" fill="#EBEBEB"/>
<path d="M286.60,180.50V278.90M333.00,180.50V278.90M379.40,180.50V278.90M248.50,262.15H408.40M248.50,237.65H408.40M248.50,213.15H408.40M248.50,188.65H408.40" stroke="#fff" stroke-opacity="0.95" stroke-width="0.8" fill="none"/>
<path d="M263.40,180.50V278.90M309.80,180.50V278.90M356.20,180.50V278.90M402.60,180.50V278.90M248.50,274.40H408.40M248.50,249.90H408.40M248.50,225.40H408.40M248.50,200.90H408.40" stroke="#fff" stroke-width="1.35" fill="none"/>
<path d="M255.40,271.50L256.00,271.59L256.60,271.64L257.20,271.65L257.81,271.62L258.41,271.56L259.01,271.46L259.61,271.33L260.21,271.16L260.81,270.96L261.42,270.72L262.02,270.45L262.62,270.15L263.22,269.81L263.82,269.45L264.42,269.05L265.03,268.62L265.63,268.16L266.23,267.68L266.83,267.16L267.43,266.62L268.03,266.06L268.64,265.50L269.24,264.93L269.84,264.37L270.44,263.82L271.04,263.29L271.64,262.79L272.25,262.33L272.85,261.91L273.45,261.55L274.05,261.23L274.65,260.97L275.25,260.75L275.86,260.57L276.46,260.42L277.06,260.31L277.66,260.22L278.26,260.14L278.86,260.06L279.47,259.97L280.07,259.87L280.67,259.74L281.27,259.58L281.87,259.37L282.47,259.11L283.08,258.78L283.68,258.38L284.28,257.89L284.88,257.32L285.48,256.63L286.08,255.84L286.69,254.92L287.29,253.90L287.89,252.77L288.49,251.55L289.09,250.27L289.69,248.92L290.30,247.53L290.90,246.11L291.50,244.66L292.10,243.22L292.70,241.77L293.30,240.33L293.91,238.89L294.51,237.45L295.11,236.01L295.71,234.58L296.31,233.14L296.91,231.71L297.52,230.28L298.12,228.84L298.72,227.41L299.32,225.98L299.92,224.54L300.52,223.10L301.13,221.66L301.73,220.22L302.33,218.77L302.93,217.32L303.53,215.87L304.13,214.41L304.73,212.95L305.34,211.48L305.94,210.00L306.54,208.53L307.14,207.04L307.74,205.55L308.34,204.05L308.95,202.54L309.55,201.02L310.15,199.50L310.75,197.98L311.35,196.48L311.95,195.01L312.56,193.58L313.16,192.20L313.76,190.90L314.36,189.67L314.96,188.54L315.56,187.51L316.17,186.61L316.77,185.84L317.37,185.21L317.97,184.74L318.57,184.45L319.17,184.33L319.78,184.38L320.38,184.59L320.98,184.95L321.58,185.45L322.18,186.08L322.78,186.83L323.39,187.69L323.99,188.65L324.59,189.70L325.19,190.84L325.79,192.05L326.39,193.32L327.00,194.66L327.60,196.05L328.20,197.49L328.80,198.98L329.40,200.51L330.00,202.07L330.61,203.66L331.21,205.27L331.81,206.89L332.41,208.53L333.01,210.18L333.61,211.85L334.22,213.53L334.82,215.24L335.42,216.97L336.02,218.72L336.62,220.49L337.22,222.26L337.83,224.02L338.43,225.76L339.03,227.47L339.63,229.15L340.23,230.78L340.83,232.34L341.44,233.85L342.04,235.27L342.64,236.60L343.24,237.86L343.84,239.03L344.44,240.12L345.05,241.14L345.65,242.09L346.25,242.96L346.85,243.77L347.45,244.51L348.05,245.19L348.66,245.81L349.26,246.37L349.86,246.88L350.46,247.33L351.06,247.74L351.66,248.09L352.27,248.40L352.87,248.68L353.47,248.93L354.07,249.18L354.67,249.44L355.27,249.73L355.87,250.08L356.48,250.48L357.08,250.96L357.68,251.50L358.28,252.09L358.88,252.73L359.48,253.42L360.09,254.14L360.69,254.90L361.29,255.68L361.89,256.48L362.49,257.30L363.09,258.13L363.70,258.97L364.30,259.81L364.90,260.64L365.50,261.46L366.10,262.27L366.70,263.06L367.31,263.83L367.91,264.56L368.51,265.26L369.11,265.92L369.71,266.54L370.31,267.11L370.92,267.62L371.52,268.07L372.12,268.45L372.72,268.77L373.32,269.03L373.92,269.23L374.53,269.39L375.13,269.50L375.73,269.58L376.33,269.63L376.93,269.65L377.53,269.66L378.14,269.65L378.74,269.64L379.34,269.63L379.94,269.62L380.54,269.63L381.14,269.66L381.75,269.70L382.35,269.75L382.95,269.82L383.55,269.90L384.15,270.00L384.75,270.11L385.36,270.23L385.96,270.35L386.56,270.49L387.16,270.64L387.76,270.79L388.36,270.95L388.97,271.11L389.57,271.28L390.17,271.46L390.77,271.63L391.37,271.81L391.97,271.99L392.58,272.17L393.18,272.35L393.78,272.53L394.38,272.70L394.98,272.87L395.58,273.04L396.19,273.20L396.79,273.36L397.39,273.51L397.99,273.65L398.59,273.79L399.19,273.91L399.80,274.03L400.40,274.13L401.00,274.22L401.60,274.30" stroke="#F8766D" stroke-width="1.85" fill="none" stroke-linejoin="round" stroke-linecap="butt"/>
<path d="M255.40,274.30L256.00,274.28L256.60,274.26L257.20,274.25L257.81,274.24L258.41,274.24L259.01,274.24L259.61,274.24L260.21,274.25L260.81,274.25L261.42,274.26L262.02,274.27L262.62,274.27L263.22,274.28L263.82,274.28L264.42,274.27L265.03,274.26L265.63,274.25L266.23,274.23L266.83,274.20L267.43,274.16L268.03,274.12L268.64,274.07L269.24,274.00L269.84,273.93L270.44,273.84L271.04,273.74L271.64,273.62L272.25,273.50L272.85,273.36L273.45,273.20L274.05,273.03L274.65,272.84L275.25,272.64L275.86,272.42L276.46,272.18L277.06,271.92L277.66,271.65L278.26,271.36L278.86,271.04L279.47,270.71L280.07,270.35L280.67,269.98L281.27,269.58L281.87,269.16L282.47,268.72L283.08,268.26L283.68,267.77L284.28,267.25L284.88,266.71L285.48,266.15L286.08,265.56L286.69,264.94L287.29,264.30L287.89,263.63L288.49,262.93L289.09,262.20L289.69,261.44L290.30,260.65L290.90,259.84L291.50,259.00L292.10,258.14L292.70,257.27L293.30,256.39L293.91,255.50L294.51,254.62L295.11,253.75L295.71,252.89L296.31,252.06L296.91,251.24L297.52,250.46L298.12,249.71L298.72,248.98L299.32,248.29L299.92,247.62L300.52,246.98L301.13,246.37L301.73,245.79L302.33,245.23L302.93,244.69L303.53,244.17L304.13,243.66L304.73,243.17L305.34,242.69L305.94,242.21L306.54,241.73L307.14,241.26L307.74,240.78L308.34,240.29L308.95,239.79L309.55,239.28L310.15,238.75L310.75,238.21L311.35,237.63L311.95,237.04L312.56,236.42L313.16,235.78L313.76,235.11L314.36,234.41L314.96,233.68L315.56,232.92L316.17,232.14L316.77,231.32L317.37,230.47L317.97,229.58L318.57,228.66L319.17,227.71L319.78,226.73L320.38,225.72L320.98,224.69L321.58,223.64L322.18,222.59L322.78,221.54L323.39,220.49L323.99,219.45L324.59,218.43L325.19,217.43L325.79,216.47L326.39,215.54L327.00,214.66L327.60,213.83L328.20,213.05L328.80,212.35L329.40,211.71L330.00,211.15L330.61,210.67L331.21,210.29L331.81,210.00L332.41,209.81L333.01,209.72L333.61,209.72L334.22,209.81L334.82,209.99L335.42,210.26L336.02,210.59L336.62,210.99L337.22,211.44L337.83,211.95L338.43,212.49L339.03,213.06L339.63,213.65L340.23,214.26L340.83,214.87L341.44,215.48L342.04,216.08L342.64,216.67L343.24,217.25L343.84,217.82L344.44,218.38L345.05,218.92L345.65,219.46L346.25,219.98L346.85,220.49L347.45,220.99L348.05,221.48L348.66,221.96L349.26,222.42L349.86,222.87L350.46,223.31L351.06,223.74L351.66,224.17L352.27,224.60L352.87,225.03L353.47,225.46L354.07,225.91L354.67,226.37L355.27,226.85L355.87,227.35L356.48,227.85L357.08,228.37L357.68,228.89L358.28,229.42L358.88,229.95L359.48,230.48L360.09,231.01L360.69,231.54L361.29,232.07L361.89,232.58L362.49,233.09L363.09,233.58L363.70,234.07L364.30,234.54L364.90,234.99L365.50,235.43L366.10,235.85L366.70,236.25L367.31,236.64L367.91,236.99L368.51,237.33L369.11,237.64L369.71,237.93L370.31,238.18L370.92,238.41L371.52,238.62L372.12,238.81L372.72,238.99L373.32,239.17L373.92,239.35L374.53,239.54L375.13,239.75L375.73,239.97L376.33,240.21L376.93,240.47L377.53,240.75L378.14,241.05L378.74,241.37L379.34,241.71L379.94,242.07L380.54,242.46L381.14,242.87L381.75,243.30L382.35,243.76L382.95,244.24L383.55,244.74L384.15,245.27L384.75,245.81L385.36,246.36L385.96,246.94L386.56,247.52L387.16,248.12L387.76,248.72L388.36,249.34L388.97,249.96L389.57,250.59L390.17,251.22L390.77,251.86L391.37,252.49L391.97,253.13L392.58,253.76L393.18,254.39L393.78,255.01L394.38,255.62L394.98,256.23L395.58,256.83L396.19,257.41L396.79,257.98L397.39,258.54L397.99,259.08L398.59,259.61L399.19,260.11L399.80,260.59L400.40,261.05L401.00,261.49L401.60,261.90" stroke="#00BFC4" stroke-width="1.85" fill="none" stroke-linejoin="round" stroke-linecap="butt"/>
<path d="M263.40,278.90v4.2M309.80,278.90v4.2M356.20,278.90v4.2M402.60,278.90v4.2M248.50,274.40h-4.2M248.50,249.90h-4.2M248.50,225.40h-4.2M248.50,200.90h-4.2" stroke="#111" stroke-width="1.5" fill="none"/>
<text x="263.40" y="295.50" font-size="12.5" text-anchor="middle">5</text>
<text x="309.80" y="295.50" font-size="12.5" text-anchor="middle">10</text>
<text x="356.20" y="295.50" font-size="12.5" text-anchor="middle">15</text>
<text x="402.60" y="295.50" font-size="12.5" text-anchor="middle">20</text>
<text x="241.30" y="279.20" font-size="12.5" text-anchor="end">0.00</text>
<text x="241.30" y="254.70" font-size="12.5" text-anchor="end">0.05</text>
<text x="241.30" y="230.20" font-size="12.5" text-anchor="end">0.10</text>
<text x="241.30" y="205.70" font-size="12.5" text-anchor="end">0.15</text>
<text x="328.45" y="171.05" font-size="12.5" text-anchor="middle" fill="#1a1a1a">CPM</text>
</g>
<g>
<rect x="440.20" y="154.20" width="159.90" height="26.30" fill="#D9D9D9"/>
<rect x="440.20" y="180.50" width="159.90" height="98.40" fill="#EBEBEB"/>
<path d="M471.00,180.50V278.90M517.80,180.50V278.90M564.60,180.50V278.90M440.20,259.10H600.10M440.20,228.50H600.10M440.20,197.90H600.10" stroke="#fff" stroke-opacity="0.95" stroke-width="0.8" fill="none"/>
<path d="M447.60,180.50V278.90M494.40,180.50V278.90M541.20,180.50V278.90M588.00,180.50V278.90M440.20,274.40H600.10M440.20,243.80H600.10M440.20,213.20H600.10M440.20,182.60H600.10" stroke="#fff" stroke-width="1.35" fill="none"/>
<path d="M447.50,245.70L448.10,245.29L448.70,244.99L449.30,244.79L449.90,244.69L450.51,244.68L451.11,244.76L451.71,244.90L452.31,245.12L452.91,245.39L453.51,245.71L454.11,246.08L454.71,246.48L455.32,246.91L455.92,247.37L456.52,247.83L457.12,248.31L457.72,248.78L458.32,249.24L458.92,249.70L459.52,250.16L460.13,250.60L460.73,251.03L461.33,251.45L461.93,251.86L462.53,252.26L463.13,252.63L463.73,253.00L464.33,253.34L464.94,253.66L465.54,253.96L466.14,254.24L466.74,254.50L467.34,254.73L467.94,254.93L468.54,255.11L469.14,255.27L469.75,255.41L470.35,255.54L470.95,255.66L471.55,255.76L472.15,255.86L472.75,255.96L473.35,256.06L473.95,256.16L474.56,256.27L475.16,256.39L475.76,256.53L476.36,256.68L476.96,256.85L477.56,257.05L478.16,257.27L478.76,257.52L479.37,257.80L479.97,258.12L480.57,258.45L481.17,258.82L481.77,259.20L482.37,259.59L482.97,260.00L483.57,260.42L484.18,260.84L484.78,261.27L485.38,261.70L485.98,262.12L486.58,262.53L487.18,262.94L487.78,263.34L488.38,263.74L488.99,264.13L489.59,264.51L490.19,264.89L490.79,265.25L491.39,265.62L491.99,265.97L492.59,266.32L493.19,266.66L493.80,266.99L494.40,267.31L495.00,267.62L495.60,267.93L496.20,268.23L496.80,268.52L497.40,268.80L498.00,269.07L498.60,269.33L499.21,269.59L499.81,269.83L500.41,270.07L501.01,270.29L501.61,270.51L502.21,270.71L502.81,270.91L503.41,271.09L504.02,271.26L504.62,271.43L505.22,271.58L505.82,271.72L506.42,271.85L507.02,271.97L507.62,272.08L508.22,272.17L508.83,272.26L509.43,272.33L510.03,272.40L510.63,272.45L511.23,272.49L511.83,272.53L512.43,272.56L513.03,272.58L513.64,272.59L514.24,272.60L514.84,272.60L515.44,272.60L516.04,272.60L516.64,272.59L517.24,272.58L517.84,272.57L518.45,272.55L519.05,272.54L519.65,272.52L520.25,272.51L520.85,272.49L521.45,272.48L522.05,272.47L522.65,272.47L523.26,272.47L523.86,272.47L524.46,272.48L525.06,272.49L525.66,272.51L526.26,272.54L526.86,272.58L527.46,272.62L528.07,272.67L528.67,272.72L529.27,272.78L529.87,272.84L530.47,272.90L531.07,272.96L531.67,273.01L532.27,273.05L532.88,273.09L533.48,273.11L534.08,273.13L534.68,273.13L535.28,273.11L535.88,273.08L536.48,273.04L537.08,272.98L537.69,272.90L538.29,272.82L538.89,272.73L539.49,272.63L540.09,272.53L540.69,272.42L541.29,272.31L541.89,272.20L542.50,272.10L543.10,271.99L543.70,271.89L544.30,271.79L544.90,271.70L545.50,271.62L546.10,271.55L546.70,271.49L547.30,271.44L547.91,271.40L548.51,271.36L549.11,271.33L549.71,271.32L550.31,271.30L550.91,271.30L551.51,271.30L552.11,271.31L552.72,271.32L553.32,271.34L553.92,271.37L554.52,271.40L555.12,271.44L555.72,271.48L556.32,271.52L556.92,271.57L557.53,271.62L558.13,271.68L558.73,271.74L559.33,271.80L559.93,271.86L560.53,271.93L561.13,271.99L561.73,272.06L562.34,272.13L562.94,272.20L563.54,272.27L564.14,272.34L564.74,272.41L565.34,272.49L565.94,272.56L566.54,272.63L567.15,272.70L567.75,272.78L568.35,272.85L568.95,272.92L569.55,272.99L570.15,273.06L570.75,273.13L571.35,273.19L571.96,273.26L572.56,273.32L573.16,273.39L573.76,273.45L574.36,273.51L574.96,273.56L575.56,273.62L576.16,273.67L576.77,273.72L577.37,273.77L577.97,273.81L578.57,273.85L579.17,273.89L579.77,273.92L580.37,273.96L580.97,273.98L581.58,274.01L582.18,274.03L582.78,274.05L583.38,274.06L583.98,274.07L584.58,274.07L585.18,274.07L585.78,274.06L586.39,274.05L586.99,274.04L587.59,274.02L588.19,273.99L588.79,273.96L589.39,273.92L589.99,273.88L590.59,273.83L591.20,273.77L591.80,273.71L592.40,273.64L593.00,273.57L593.60,273.49" stroke="#F8766D" stroke-width="1.85" fill="none" stroke-linejoin="round" stroke-linecap="butt"/>
<path d="M447.70,184.29L448.30,185.46L448.90,188.75L449.50,193.66L450.10,199.70L450.70,206.38L451.30,213.19L451.90,219.67L452.50,225.47L453.10,230.36L453.70,234.12L454.30,236.72L454.90,238.31L455.51,239.05L456.11,239.12L456.71,238.75L457.31,238.19L457.91,237.68L458.51,237.48L459.11,237.82L459.71,238.76L460.31,240.26L460.91,242.24L461.51,244.51L462.11,246.89L462.71,249.24L463.31,251.47L463.91,253.49L464.51,255.23L465.11,256.61L465.71,257.55L466.31,258.13L466.91,258.43L467.51,258.56L468.11,258.62L468.71,258.63L469.31,258.65L469.92,258.69L470.52,258.79L471.12,258.99L471.72,259.31L472.32,259.79L472.92,260.46L473.52,261.31L474.12,262.29L474.72,263.36L475.32,264.47L475.92,265.58L476.52,266.63L477.12,267.58L477.72,268.40L478.32,269.09L478.92,269.65L479.52,270.11L480.12,270.48L480.72,270.77L481.32,270.99L481.92,271.16L482.52,271.29L483.12,271.40L483.72,271.49L484.33,271.57L484.93,271.64L485.53,271.72L486.13,271.79L486.73,271.86L487.33,271.94L487.93,272.03L488.53,272.13L489.13,272.24L489.73,272.36L490.33,272.50L490.93,272.66L491.53,272.84L492.13,273.04L492.73,273.23L493.33,273.43L493.93,273.61L494.53,273.78L495.13,273.93L495.73,274.04L496.33,274.12L496.93,274.15L497.53,274.13L498.13,274.06L498.73,273.93L499.34,273.77L499.94,273.58L500.54,273.37L501.14,273.16L501.74,272.94L502.34,272.74L502.94,272.56L503.54,272.41L504.14,272.30L504.74,272.25L505.34,272.24L505.94,272.27L506.54,272.34L507.14,272.45L507.74,272.58L508.34,272.73L508.94,272.89L509.54,273.07L510.14,273.25L510.74,273.44L511.34,273.61L511.94,273.78L512.54,273.93L513.14,274.06L513.75,274.17L514.35,274.26L514.95,274.34L515.55,274.40L516.15,274.44L516.75,274.47L517.35,274.48L517.95,274.47L518.55,274.45L519.15,274.42L519.75,274.36L520.35,274.30L520.95,274.22L521.55,274.13L522.15,274.02L522.75,273.90L523.35,273.76L523.95,273.62L524.55,273.46L525.15,273.29L525.75,273.12L526.35,272.96L526.95,272.80L527.55,272.67L528.16,272.55L528.76,272.46L529.36,272.41L529.96,272.41L530.56,272.44L531.16,272.50L531.76,272.59L532.36,272.71L532.96,272.84L533.56,272.99L534.16,273.15L534.76,273.32L535.36,273.48L535.96,273.63L536.56,273.78L537.16,273.91L537.76,274.02L538.36,274.12L538.96,274.21L539.56,274.28L540.16,274.33L540.76,274.38L541.36,274.41L541.96,274.44L542.57,274.45L543.17,274.46L543.77,274.47L544.37,274.46L544.97,274.45L545.57,274.44L546.17,274.43L546.77,274.41L547.37,274.40L547.97,274.38L548.57,274.37L549.17,274.36L549.77,274.34L550.37,274.33L550.97,274.32L551.57,274.31L552.17,274.30L552.77,274.29L553.37,274.29L553.97,274.28L554.57,274.27L555.17,274.27L555.77,274.26L556.37,274.26L556.97,274.25L557.58,274.25L558.18,274.25L558.78,274.25L559.38,274.24L559.98,274.24L560.58,274.24L561.18,274.24L561.78,274.24L562.38,274.24L562.98,274.24L563.58,274.24L564.18,274.25L564.78,274.25L565.38,274.25L565.98,274.25L566.58,274.25L567.18,274.26L567.78,274.26L568.38,274.26L568.98,274.27L569.58,274.27L570.18,274.27L570.78,274.28L571.38,274.28L571.99,274.29L572.59,274.29L573.19,274.29L573.79,274.30L574.39,274.30L574.99,274.31L575.59,274.31L576.19,274.31L576.79,274.32L577.39,274.32L577.99,274.33L578.59,274.33L579.19,274.33L579.79,274.33L580.39,274.34L580.99,274.34L581.59,274.34L582.19,274.34L582.79,274.35L583.39,274.35L583.99,274.35L584.59,274.35L585.19,274.35L585.79,274.35L586.40,274.35L587.00,274.35L587.60,274.34L588.20,274.34L588.80,274.34L589.40,274.34L590.00,274.33L590.60,274.33L591.20,274.32L591.80,274.32L592.40,274.31L593.00,274.30L593.60,274.29" stroke="#00BFC4" stroke-width="1.85" fill="none" stroke-linejoin="round" stroke-linecap="butt"/>
<path d="M447.60,278.90v4.2M494.40,278.90v4.2M541.20,278.90v4.2M588.00,278.90v4.2M440.20,274.40h-4.2M440.20,243.80h-4.2M440.20,213.20h-4.2M440.20,182.60h-4.2" stroke="#111" stroke-width="1.5" fill="none"/>
<text x="447.60" y="295.50" font-size="12.5" text-anchor="middle">0.00</text>
<text x="494.40" y="295.50" font-size="12.5" text-anchor="middle">0.05</text>
<text x="541.20" y="295.50" font-size="12.5" text-anchor="middle">0.10</text>
<text x="588.00" y="295.50" font-size="12.5" text-anchor="middle">0.15</text>
<text x="433.00" y="279.20" font-size="12.5" text-anchor="end">0</text>
<text x="433.00" y="248.60" font-size="12.5" text-anchor="end">20</text>
<text x="433.00" y="218.00" font-size="12.5" text-anchor="end">40</text>
<text x="433.00" y="187.40" font-size="12.5" text-anchor="end">60</text>
<text x="520.15" y="171.05" font-size="12.5" text-anchor="middle" fill="#1a1a1a">Unintell prop</text>
</g>
<g>
<rect x="42.50" y="307.70" width="159.90" height="26.40" fill="#D9D9D9"/>
<rect x="42.50" y="334.10" width="159.90" height="98.55" fill="#EBEBEB"/>
<path d="M72.78,334.10V432.65M118.53,334.10V432.65M164.28,334.10V432.65M42.50,414.98H202.40M42.50,388.52H202.40M42.50,362.08H202.40M42.50,335.62H202.40" stroke="#fff" stroke-opacity="0.95" stroke-width="0.8" fill="none"/>
<path d="M49.90,334.10V432.65M95.65,334.10V432.65M141.40,334.10V432.65M187.20,334.10V432.65M42.50,428.20H202.40M42.50,401.75H202.40M42.50,375.30H202.40M42.50,348.85H202.40" stroke="#fff" stroke-width="1.35" fill="none"/>
<path d="M49.60,401.79L50.20,400.80L50.80,399.90L51.40,399.08L52.00,398.33L52.60,397.66L53.20,397.05L53.80,396.50L54.40,396.01L55.00,395.57L55.60,395.19L56.20,394.84L56.80,394.53L57.41,394.26L58.01,394.01L58.61,393.79L59.21,393.58L59.81,393.39L60.41,393.21L61.01,393.04L61.61,392.87L62.21,392.71L62.81,392.56L63.41,392.41L64.01,392.27L64.61,392.14L65.21,392.02L65.81,391.91L66.41,391.81L67.01,391.72L67.61,391.64L68.21,391.57L68.81,391.51L69.41,391.47L70.01,391.43L70.61,391.42L71.21,391.41L71.82,391.42L72.42,391.45L73.02,391.50L73.62,391.57L74.22,391.67L74.82,391.79L75.42,391.95L76.02,392.13L76.62,392.36L77.22,392.61L77.82,392.91L78.42,393.24L79.02,393.62L79.62,394.05L80.22,394.52L80.82,395.04L81.42,395.61L82.02,396.23L82.62,396.88L83.22,397.56L83.82,398.26L84.42,398.98L85.02,399.71L85.62,400.44L86.23,401.17L86.83,401.88L87.43,402.58L88.03,403.25L88.63,403.90L89.23,404.52L89.83,405.12L90.43,405.69L91.03,406.24L91.63,406.77L92.23,407.27L92.83,407.75L93.43,408.22L94.03,408.66L94.63,409.08L95.23,409.48L95.83,409.86L96.43,410.22L97.03,410.56L97.63,410.89L98.23,411.20L98.83,411.49L99.43,411.77L100.03,412.03L100.63,412.27L101.24,412.50L101.84,412.72L102.44,412.92L103.04,413.11L103.64,413.29L104.24,413.45L104.84,413.61L105.44,413.75L106.04,413.88L106.64,414.00L107.24,414.12L107.84,414.22L108.44,414.32L109.04,414.40L109.64,414.48L110.24,414.56L110.84,414.63L111.44,414.69L112.04,414.74L112.64,414.79L113.24,414.84L113.84,414.88L114.44,414.93L115.04,414.96L115.65,415.00L116.25,415.03L116.85,415.06L117.45,415.10L118.05,415.13L118.65,415.16L119.25,415.19L119.85,415.23L120.45,415.27L121.05,415.31L121.65,415.35L122.25,415.39L122.85,415.44L123.45,415.50L124.05,415.56L124.65,415.63L125.25,415.70L125.85,415.78L126.45,415.87L127.05,415.98L127.65,416.09L128.25,416.21L128.85,416.35L129.45,416.50L130.06,416.67L130.66,416.85L131.26,417.05L131.86,417.26L132.46,417.49L133.06,417.75L133.66,418.02L134.26,418.31L134.86,418.63L135.46,418.96L136.06,419.32L136.66,419.69L137.26,420.07L137.86,420.46L138.46,420.85L139.06,421.25L139.66,421.64L140.26,422.03L140.86,422.41L141.46,422.78L142.06,423.13L142.66,423.47L143.26,423.78L143.86,424.07L144.47,424.33L145.07,424.56L145.67,424.77L146.27,424.97L146.87,425.14L147.47,425.30L148.07,425.44L148.67,425.58L149.27,425.70L149.87,425.82L150.47,425.92L151.07,426.01L151.67,426.10L152.27,426.18L152.87,426.25L153.47,426.31L154.07,426.37L154.67,426.42L155.27,426.46L155.87,426.50L156.47,426.53L157.07,426.56L157.67,426.58L158.27,426.60L158.87,426.62L159.48,426.63L160.08,426.64L160.68,426.65L161.28,426.66L161.88,426.66L162.48,426.66L163.08,426.67L163.68,426.67L164.28,426.67L164.88,426.67L165.48,426.67L166.08,426.67L166.68,426.67L167.28,426.67L167.88,426.67L168.48,426.66L169.08,426.66L169.68,426.65L170.28,426.65L170.88,426.64L171.48,426.64L172.08,426.63L172.68,426.63L173.28,426.62L173.89,426.61L174.49,426.61L175.09,426.60L175.69,426.59L176.29,426.58L176.89,426.57L177.49,426.56L178.09,426.55L178.69,426.54L179.29,426.54L179.89,426.53L180.49,426.52L181.09,426.51L181.69,426.50L182.29,426.49L182.89,426.48L183.49,426.47L184.09,426.46L184.69,426.45L185.29,426.44L185.89,426.43L186.49,426.42L187.09,426.41L187.69,426.40L188.30,426.39L188.90,426.38L189.50,426.37L190.10,426.36L190.70,426.35L191.30,426.34L191.90,426.34L192.50,426.33L193.10,426.32L193.70,426.32L194.30,426.31L194.90,426.30L195.50,426.30" stroke="#F8766D" stroke-width="1.85" fill="none" stroke-linejoin="round" stroke-linecap="butt"/>
<path d="M49.60,409.09L50.20,406.26L50.80,403.43L51.40,400.59L52.00,397.70L52.60,394.73L53.20,391.66L53.80,388.47L54.40,385.14L55.00,381.65L55.60,378.01L56.20,374.19L56.80,370.19L57.41,366.07L58.01,361.92L58.61,357.83L59.21,353.90L59.81,350.23L60.41,346.91L61.01,344.03L61.61,341.69L62.21,339.95L62.81,338.82L63.41,338.26L64.01,338.26L64.61,338.81L65.21,339.89L65.81,341.48L66.41,343.57L67.01,346.08L67.61,348.95L68.21,352.09L68.81,355.41L69.41,358.85L70.01,362.31L70.61,365.71L71.21,368.98L71.82,372.03L72.42,374.82L73.02,377.36L73.62,379.68L74.22,381.78L74.82,383.70L75.42,385.44L76.02,387.02L76.62,388.47L77.22,389.80L77.82,391.03L78.42,392.18L79.02,393.26L79.62,394.30L80.22,395.31L80.82,396.32L81.42,397.33L82.02,398.37L82.62,399.45L83.22,400.59L83.82,401.76L84.42,402.95L85.02,404.16L85.62,405.35L86.23,406.53L86.83,407.66L87.43,408.75L88.03,409.77L88.63,410.71L89.23,411.55L89.83,412.29L90.43,412.89L91.03,413.36L91.63,413.69L92.23,413.90L92.83,414.02L93.43,414.06L94.03,414.05L94.63,414.01L95.23,413.96L95.83,413.92L96.43,413.92L97.03,413.97L97.63,414.08L98.23,414.25L98.83,414.47L99.43,414.76L100.03,415.10L100.63,415.49L101.24,415.93L101.84,416.43L102.44,416.98L103.04,417.57L103.64,418.20L104.24,418.86L104.84,419.54L105.44,420.23L106.04,420.93L106.64,421.61L107.24,422.28L107.84,422.93L108.44,423.54L109.04,424.11L109.64,424.63L110.24,425.09L110.84,425.48L111.44,425.79L112.04,426.02L112.64,426.18L113.24,426.27L113.84,426.30L114.44,426.27L115.04,426.19L115.65,426.06L116.25,425.89L116.85,425.69L117.45,425.46L118.05,425.21L118.65,424.94L119.25,424.66L119.85,424.37L120.45,424.09L121.05,423.81L121.65,423.54L122.25,423.29L122.85,423.06L123.45,422.87L124.05,422.72L124.65,422.62L125.25,422.58L125.85,422.62L126.45,422.73L127.05,422.93L127.65,423.21L128.25,423.55L128.85,423.91L129.45,424.27L130.06,424.61L130.66,424.88L131.26,425.10L131.86,425.24L132.46,425.31L133.06,425.31L133.66,425.24L134.26,425.11L134.86,424.97L135.46,424.82L136.06,424.70L136.66,424.63L137.26,424.63L137.86,424.70L138.46,424.84L139.06,425.04L139.66,425.27L140.26,425.54L140.86,425.82L141.46,426.11L142.06,426.39L142.66,426.66L143.26,426.89L143.86,427.11L144.47,427.29L145.07,427.46L145.67,427.60L146.27,427.72L146.87,427.82L147.47,427.91L148.07,427.97L148.67,428.03L149.27,428.07L149.87,428.10L150.47,428.12L151.07,428.14L151.67,428.14L152.27,428.14L152.87,428.14L153.47,428.14L154.07,428.13L154.67,428.13L155.27,428.13L155.87,428.12L156.47,428.12L157.07,428.12L157.67,428.11L158.27,428.11L158.87,428.11L159.48,428.10L160.08,428.10L160.68,428.10L161.28,428.10L161.88,428.10L162.48,428.10L163.08,428.09L163.68,428.09L164.28,428.09L164.88,428.09L165.48,428.09L166.08,428.09L166.68,428.09L167.28,428.09L167.88,428.09L168.48,428.09L169.08,428.09L169.68,428.09L170.28,428.09L170.88,428.09L171.48,428.09L172.08,428.09L172.68,428.09L173.28,428.09L173.89,428.09L174.49,428.09L175.09,428.09L175.69,428.10L176.29,428.10L176.89,428.10L177.49,428.10L178.09,428.10L178.69,428.10L179.29,428.10L179.89,428.10L180.49,428.10L181.09,428.10L181.69,428.10L182.29,428.10L182.89,428.11L183.49,428.11L184.09,428.11L184.69,428.11L185.29,428.11L185.89,428.11L186.49,428.11L187.09,428.11L187.69,428.11L188.30,428.11L188.90,428.11L189.50,428.11L190.10,428.11L190.70,428.11L191.30,428.11L191.90,428.11L192.50,428.11L193.10,428.10L193.70,428.10L194.30,428.10L194.90,428.10L195.50,428.10" stroke="#00BFC4" stroke-width="1.85" fill="none" stroke-linejoin="round" stroke-linecap="butt"/>
<path d="M49.90,432.65v4.2M95.65,432.65v4.2M141.40,432.65v4.2M187.20,432.65v4.2M42.50,428.20h-4.2M42.50,401.75h-4.2M42.50,375.30h-4.2M42.50,348.85h-4.2" stroke="#111" stroke-width="1.5" fill="none"/>
<text x="49.90" y="449.25" font-size="12.5" text-anchor="middle">0.00</text>
<text x="95.65" y="449.25" font-size="12.5" text-anchor="middle">0.05</text>
<text x="141.40" y="449.25" font-size="12.5" text-anchor="middle">0.10</text>
<text x="187.20" y="449.25" font-size="12.5" text-anchor="middle">0.15</text>
<text x="35.30" y="433.00" font-size="12.5" text-anchor="end">0</text>
<text x="35.30" y="406.55" font-size="12.5" text-anchor="end">10</text>
<text x="35.30" y="380.10" font-size="12.5" text-anchor="end">20</text>
<text x="35.30" y="353.65" font-size="12.5" text-anchor="end">30</text>
<text x="122.45" y="324.60" font-size="12.5" text-anchor="middle" fill="#1a1a1a">Repetition prop</text>
</g>
<text x="321.6" y="468.3" font-size="15.1" text-anchor="middle">value</text>
<text transform="translate(10.9,229.2) rotate(-90)" font-size="15.8" text-anchor="middle">density</text>
<text x="623.5" y="205.2" font-size="15.3">Diagnosis</text>
<rect x="624.4" y="216.7" width="22" height="23.2" fill="#F2F2F2" stroke="#F8766D" stroke-width="1.55"/>
<rect x="624.4" y="242.8" width="22" height="23.6" fill="#F2F2F2" stroke="#00BFC4" stroke-width="1.55"/>
<text x="655.3" y="232.8" font-size="12.5">ASD</text>
<text x="655.3" y="259.3" font-size="12.5">non−ASD</text>
</svg></body></html>
